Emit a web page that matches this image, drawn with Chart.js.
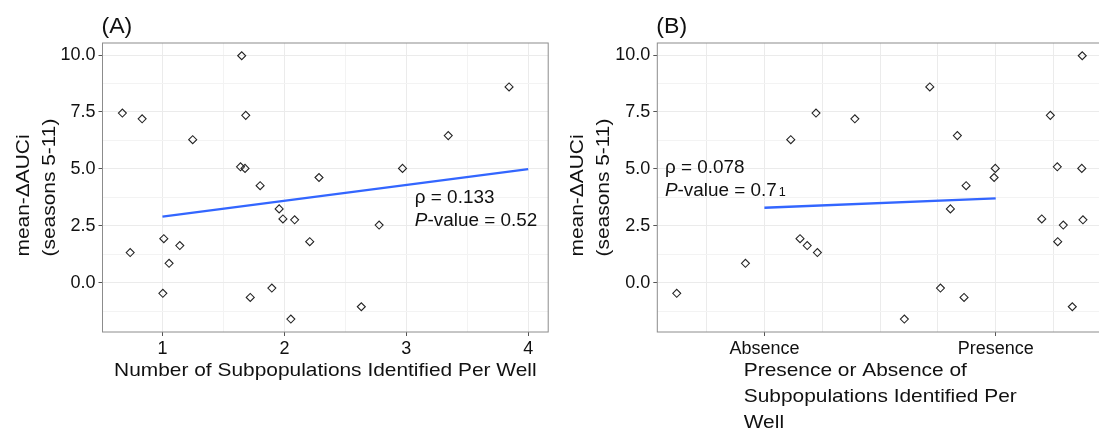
<!DOCTYPE html>
<html lang="en">
<head>
<meta charset="UTF-8">
<title>mean-ΔAUCi and subpopulations per well</title>
<script src="https://cdn.jsdelivr.net/npm/chart.js"></script>
<style>
  html, body { margin: 0; padding: 0; background: #fff; overflow: hidden; }
  #wrapA { position: absolute; left: 0; top: 0; width: 560px; height: 435px; }
  #wrapB { position: absolute; left: 560px; top: 0; width: 550px; height: 435px; }
</style>
</head>
<body>
<div id="wrapA"><canvas id="chartA"></canvas></div>
<div id="wrapB"><canvas id="chartB"></canvas></div>

<script>
// mean-ΔAUCi (seasons 5-11), one value per well
const deltaAUC = [7.45, 7.20, 1.32, 6.28, 1.93, 1.63, 0.85, -0.47, 9.97, 7.35, 5.09, 5.02, 4.26,
                  3.24, 2.80, 2.76, 1.80, 4.62, -0.65, -0.24, -1.60, -1.06, 2.53, 5.02, 6.46, 8.60];
// number of subpopulations per well (jittered), same well order
const subpopCount = [0.671, 0.833, 0.735, 1.248, 1.011, 1.142, 1.054, 1.003, 1.650, 1.683, 1.640, 1.677, 1.801,
                     1.957, 1.988, 2.084, 2.208, 2.284, 1.720, 1.897, 2.053, 2.631, 2.777, 2.969, 3.344, 3.843];
// absence = 0, presence = 1 (jittered), same well order
const presenceCode = [0.223, 0.391, 0.229, 0.114, 0.154, 0.185, -0.082, -0.379, 1.374, 1.236, 1.266, 1.372, 0.872,
                      0.804, 1.199, 1.377, 1.268, 0.993, 0.863, 0.761, 0.605, 1.331, 1.292, 0.998, 0.834, 0.715];

// fitted lines
const fitCountX = [1, 4];
const fitCountY = [2.90, 4.99];
const fitPresenceX = [0, 1];
const fitPresenceY = [3.29, 3.70];

// axes
const yGrid = [-1.25, 0, 1.25, 2.5, 3.75, 5, 6.25, 7.5, 8.75, 10];
const yTicks = [0, 2.5, 5, 7.5, 10];
const countGrid = [1, 1.5, 2, 2.5, 3, 3.5, 4];
const countTicks = [1, 2, 3, 4];
const presenceGrid = [-0.25, 0, 0.25, 0.5, 0.75, 1, 1.25];
const presenceTicks = [0, 1];
const presenceLabels = ['Absence', 'Presence'];

const FAMILY = '"Liberation Sans", Arial, Helvetica, sans-serif';
const MAJOR = '#ebebeb';
const MINOR = '#f3f3f3';
const TICK = '#555555';
const INK = '#111111';

function put(ctx, str, x, y, font, sx, rotate) {
  ctx.save();
  ctx.translate(x, y);
  if (rotate) ctx.rotate(-Math.PI / 2);
  ctx.scale(sx, 1);
  ctx.font = font;
  ctx.fillStyle = INK;
  ctx.textAlign = 'left';
  ctx.textBaseline = 'alphabetic';
  ctx.fillText(str, 0, 0);
  ctx.restore();
}

function textWidth(ctx, str, font, sx) {
  ctx.save();
  ctx.font = font;
  const w = ctx.measureText(str).width * sx;
  ctx.restore();
  return w;
}

// frame, titles and the correlation note
const panelText = {
  id: 'panelText',
  afterDraw(chart, args, o) {
    const { ctx, chartArea: a, scales } = chart;
    ctx.save();
    ctx.strokeStyle = '#8c8c8c';
    ctx.lineWidth = 1;
    ctx.strokeRect(a.left, a.top, a.right - a.left, a.bottom - a.top);
    ctx.restore();

    const titleFont = '19px ' + FAMILY;
    const sx = 1.1;

    put(ctx, o.tag, a.left - 1, 33, '22px ' + FAMILY, 1.05, false);

    // y title, lines left-aligned, block centred on the panel
    const yLines = ['mean-ΔAUCi', '(seasons 5-11)'];
    const yBlock = Math.max(...yLines.map(s => textWidth(ctx, s, titleFont, sx)));
    const yStart = (a.top + a.bottom) / 2 + yBlock / 2;
    yLines.forEach((s, i) => put(ctx, s, a.left - 74 + i * 26, yStart, titleFont, sx, true));

    // x title
    const xBlock = Math.max(...o.xTitle.map(s => textWidth(ctx, s, titleFont, sx)));
    const xStart = (a.left + a.right) / 2 - xBlock / 2;
    o.xTitle.forEach((s, i) => put(ctx, s, xStart, a.bottom + 43.5 + i * 26.2, titleFont, sx, false));

    // correlation note
    const px = scales.x.getPixelForValue(o.note.x);
    const py = scales.y.getPixelForValue(o.note.y);
    o.note.lines.forEach((runs, i) => {
      let x = px;
      runs.forEach(r => {
        const font = (r.italic ? 'italic ' : '') + (r.size || 18) + 'px ' + FAMILY;
        put(ctx, r.t, x, py + i * 23.4, font, 1.05, false);
        x += textWidth(ctx, r.t, font, 1.05) + (r.gap || 0);
      });
    });
  }
};

function buildChart(id, c) {
  const tickFont = { family: FAMILY, size: 18 };
  return new Chart(document.getElementById(id), {
    type: 'scatter',
    data: {
      datasets: [
        {
          type: 'line',
          data: c.fitX.map((x, i) => ({ x, y: c.fitY[i] })),
          borderColor: '#3366FF',
          borderWidth: 2.4,
          pointRadius: 0,
          fill: false,
          order: 1
        },
        {
          data: c.xs.map((x, i) => ({ x, y: deltaAUC[i] })),
          pointStyle: 'rectRot',
          pointRadius: 4,
          borderColor: '#262626',
          borderWidth: 1.1,
          backgroundColor: 'rgba(0,0,0,0)',
          order: 2
        }
      ]
    },
    options: {
      responsive: true,
      maintainAspectRatio: false,
      animation: false,
      layout: { padding: { left: 0, top: 43, right: c.padRight, bottom: 0 } },
      plugins: {
        legend: { display: false },
        tooltip: { enabled: false },
        panelText: { tag: c.tag, xTitle: c.xTitle, note: c.note }
      },
      scales: {
        x: {
          type: 'linear',
          min: c.xMin,
          max: c.xMax,
          afterBuildTicks: s => { s.ticks = c.xGrid.map(v => ({ value: v })); },
          afterFit: s => { s.height = 103; },
          border: { display: false },
          grid: {
            color: ctx => (ctx.tick && c.xMajor.includes(ctx.tick.value)) ? MAJOR : MINOR,
            lineWidth: 1,
            tickLength: 4,
            tickColor: ctx => (ctx.tick && c.xTicks.includes(ctx.tick.value)) ? TICK : 'rgba(0,0,0,0)'
          },
          ticks: {
            autoSkip: false,
            maxRotation: 0,
            padding: 2,
            color: INK,
            font: tickFont,
            callback: v => c.xLabel(v)
          }
        },
        y: {
          type: 'linear',
          min: -2.17,
          max: 10.53,
          afterBuildTicks: s => { s.ticks = yGrid.map(v => ({ value: v })); },
          afterFit: s => { s.width = c.yWidth; },
          border: { display: false },
          grid: {
            color: ctx => (ctx.tick && yTicks.includes(ctx.tick.value)) ? MAJOR : MINOR,
            lineWidth: 1,
            tickLength: 4,
            tickColor: ctx => (ctx.tick && yTicks.includes(ctx.tick.value)) ? TICK : 'rgba(0,0,0,0)'
          },
          ticks: {
            autoSkip: false,
            padding: 3,
            color: INK,
            font: tickFont,
            callback: v => yTicks.includes(v) ? v.toFixed(1) : ''
          }
        }
      }
    },
    plugins: [panelText]
  });
}

buildChart('chartA', {
  tag: '(A)',
  xs: subpopCount,
  fitX: fitCountX,
  fitY: fitCountY,
  xMin: 0.508,
  xMax: 4.164,
  xGrid: countGrid,
  xMajor: countTicks,
  xTicks: countTicks,
  xLabel: v => countTicks.includes(v) ? String(v) : '',
  xTitle: ['Number of Subpopulations Identified Per Well'],
  yWidth: 102.5,
  padRight: 11.8,
  note: {
    x: 3.07, y: 3.51,
    lines: [
      [{ t: 'ρ = 0.133' }],
      [{ t: 'P', italic: true }, { t: '-value = 0.52' }]
    ]
  }
});

buildChart('chartB', {
  tag: '(B)',
  xs: presenceCode,
  fitX: fitPresenceX,
  fitY: fitPresenceY,
  xMin: -0.463,
  xMax: 1.465,
  xGrid: presenceGrid,
  xMajor: presenceGrid,
  xTicks: presenceTicks,
  xLabel: v => { const i = presenceTicks.indexOf(v); return i >= 0 ? presenceLabels[i] : ''; },
  xTitle: ['Presence or Absence of', 'Subpopulations Identified Per', 'Well'],
  yWidth: 97.3,
  padRight: 6.7,
  note: {
    x: -0.43, y: 4.83,
    lines: [
      [{ t: 'ρ = 0.078' }],
      [{ t: 'P', italic: true }, { t: '-value = 0.7', gap: 2 }, { t: '1', size: 12 }]
    ]
  }
});
</script>
</body>
</html>
